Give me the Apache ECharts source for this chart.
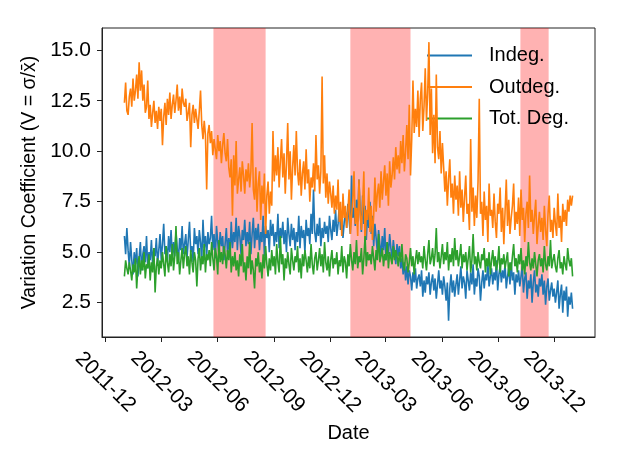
<!DOCTYPE html>
<html>
<head>
<meta charset="utf-8">
<script src="https://cdn.jsdelivr.net/npm/echarts@6/dist/echarts.min.js"></script>
<style>
html,body{margin:0;padding:0;background:#fff;}
#chart{width:623px;height:467px;}
</style>
</head>
<body>
<div id="chart"></div>
<script>
// ---- data (one value every 2 days, starting 2012-01-01) ----
const START = [2012, 0, 1];
const STEP_DAYS = 2;
const seriesNames = ['Indeg.', 'Outdeg.', 'Tot. Deg.'];

const indeg = [
5.8,4.9,6.2,5.1,4.3,5.5,4.6,3.9,5.0,4.4,
5.2,3.8,4.7,5.5,4.1,4.9,5.3,4.5,5.8,4.2,
5.0,4.6,5.6,4.3,5.2,4.8,5.7,4.4,5.1,5.9,
4.6,5.4,6.4,4.9,5.3,4.5,5.8,5.0,6.1,4.7,
5.5,4.8,6.0,5.2,4.6,5.7,5.1,6.3,4.9,5.4,
5.9,4.7,5.6,6.5,5.0,5.3,4.5,6.2,5.4,5.8,
4.9,6.1,5.5,4.6,6.6,5.2,5.8,4.8,6.0,5.4,
5.7,6.8,5.1,5.9,4.7,6.3,5.5,4.9,6.0,5.3,
5.8,4.6,5.4,6.2,5.0,5.7,4.8,6.5,5.2,6.0,
5.5,6.7,5.1,6.3,5.8,4.9,6.1,5.6,6.6,5.3,
6.0,5.4,6.5,4.9,5.9,6.7,5.2,6.2,5.6,6.4,
5.1,6.0,5.5,6.8,4.8,6.3,5.7,6.1,5.0,6.6,
5.8,6.4,5.3,6.0,5.5,6.9,5.2,6.2,5.7,6.5,
5.4,6.1,5.0,6.7,5.9,5.3,6.4,5.6,6.2,5.1,
6.0,5.5,6.8,5.2,6.3,5.7,6.1,5.0,6.6,5.8,
6.2,5.4,6.9,5.9,8.1,6.0,5.5,6.4,5.8,6.7,
5.3,6.2,5.7,6.5,5.9,6.3,5.5,6.8,6.1,5.6,
6.6,6.0,7.1,5.8,6.4,7.3,6.1,6.8,5.7,6.5,
7.0,6.2,7.4,6.6,5.9,8.8,6.7,7.2,6.3,7.6,
6.5,8.6,7.1,6.0,7.8,6.4,7.3,5.6,7.0,6.2,
7.5,5.9,6.8,5.3,6.4,5.7,5.0,6.1,5.4,4.8,
5.8,5.1,6.2,4.6,5.5,4.9,5.9,5.2,4.7,5.6,
5.0,4.4,5.4,4.8,5.3,4.2,4.7,3.9,4.5,3.6,
4.3,3.4,4.1,3.8,3.1,4.0,3.5,4.2,3.2,3.7,
3.9,3.3,4.1,2.8,3.6,3.0,3.8,3.4,4.0,2.9,
3.5,3.9,3.1,3.7,2.7,3.4,4.1,3.2,3.6,2.9,
3.8,3.3,2.6,3.5,1.6,3.2,3.9,3.0,3.6,2.8,
3.4,3.9,2.9,3.6,4.3,3.2,3.8,3.5,2.7,4.1,
3.6,3.1,4.0,3.4,4.4,2.9,3.7,3.3,4.2,3.8,
2.6,3.5,4.1,3.2,3.9,3.6,4.5,3.3,3.8,4.2,
3.4,4.0,3.6,4.6,3.1,3.9,4.3,3.5,4.1,3.7,
4.4,3.2,3.8,4.2,3.4,4.5,3.6,4.0,2.9,3.9,
3.5,4.1,3.3,3.8,4.3,3.0,3.7,4.0,2.7,3.6,
3.2,3.9,2.5,3.5,4.1,3.0,3.4,2.8,3.7,3.3,
3.9,2.9,3.6,2.4,3.3,3.7,2.6,3.1,3.5,2.8,
3.2,2.5,3.0,3.6,2.2,2.9,3.4,2.0,3.1,2.6,
3.3,1.8,2.8,2.4,3.0,2.2
];

const outdeg = [
12.4,13.4,12.0,11.8,12.7,13.1,12.2,13.6,12.5,13.0,
13.8,12.6,14.4,13.0,14.0,12.5,13.3,11.9,12.2,13.5,
11.6,12.3,11.2,11.9,12.5,11.4,12.0,11.1,12.2,11.5,
12.1,10.3,11.7,12.4,11.3,12.6,11.8,12.9,11.6,12.3,
12.8,11.9,12.5,13.3,12.0,12.7,11.8,13.1,12.4,12.2,
12.6,11.5,11.9,12.4,10.2,11.8,12.3,11.4,12.1,11.6,
11.1,12.0,13.0,11.3,10.6,11.5,10.8,8.1,10.9,11.3,
10.4,11.0,9.8,10.6,10.1,9.6,10.8,10.0,10.5,9.4,
10.3,10.9,9.9,9.5,10.6,9.2,8.7,9.6,6.8,9.8,
8.3,10.5,7.9,8.6,9.2,8.0,9.5,8.8,7.9,9.1,
8.5,9.4,8.2,9.0,11.4,8.1,7.6,9.2,7.0,8.4,
9.0,6.6,8.3,7.4,8.9,5.9,7.8,8.5,6.9,8.0,
7.3,11.0,8.5,9.8,8.8,10.2,8.2,9.5,10.6,8.7,
9.9,7.9,9.4,11.4,8.6,10.0,7.6,9.2,10.3,8.8,
11.0,9.0,8.3,9.6,7.8,8.9,9.5,8.1,10.1,8.4,
9.1,7.5,8.7,8.2,9.4,8.0,10.8,8.6,9.3,7.9,
9.0,13.7,8.4,9.8,7.7,8.9,7.4,8.5,7.9,7.2,
8.3,6.9,7.8,7.1,8.6,6.5,7.5,5.8,7.9,6.7,
7.3,6.2,7.0,8.1,5.9,6.8,7.6,9.0,6.4,7.2,
5.8,8.6,6.9,6.1,7.4,9.0,5.3,7.1,6.6,8.2,
6.0,7.3,5.6,6.8,8.7,7.0,7.9,8.4,7.2,9.0,
7.6,8.5,9.3,7.8,8.9,7.3,9.5,8.2,8.8,9.7,
8.6,10.2,9.1,9.8,8.9,10.5,9.4,10.8,9.0,10.0,
11.3,9.6,12.3,8.8,10.6,13.5,10.9,12.1,11.2,13.0,
10.7,12.6,13.4,11.0,12.2,14.1,11.5,12.9,15.4,10.8,
13.1,9.9,11.8,9.4,13.8,10.2,9.6,11.0,8.9,10.4,
9.2,8.0,9.0,7.3,8.6,9.6,7.7,8.4,6.9,8.8,
7.6,8.3,6.8,9.0,7.2,8.1,6.5,7.7,8.8,6.9,
7.4,6.1,10.6,7.0,8.2,6.3,7.8,6.7,8.5,12.6,
6.9,7.5,5.8,8.0,6.6,7.3,5.5,8.4,6.8,7.1,
6.2,7.9,6.5,5.7,7.4,6.9,8.2,6.0,7.2,5.4,
7.0,8.6,6.3,7.6,5.9,6.7,7.3,8.4,6.1,7.0,
6.4,7.7,5.8,8.1,6.6,7.2,5.5,6.9,7.5,6.2,
8.8,6.5,7.1,5.9,6.8,7.6,5.4,6.3,7.0,6.0,
6.7,5.6,7.3,6.1,5.3,6.9,7.8,6.0,6.6,5.7,
7.2,6.4,5.8,7.9,6.2,6.8,5.5,7.4,6.5,7.1,
6.3,7.6,7.0,7.8,7.3,7.8
];

const totdeg = [
3.8,4.6,4.2,3.9,4.5,4.1,3.6,4.4,4.0,4.7,
3.2,4.3,4.8,3.9,4.6,4.1,5.0,3.7,4.4,4.2,
4.9,3.6,4.5,4.0,5.2,3.0,4.3,4.7,3.9,4.6,
4.2,5.0,4.4,3.8,5.3,4.5,4.0,4.9,4.3,5.4,
4.1,4.8,6.3,4.4,5.0,3.9,4.6,5.2,4.2,4.9,
5.3,4.3,4.8,3.9,5.1,4.5,4.0,5.0,4.6,3.3,
4.7,5.2,4.1,4.8,4.4,5.4,4.0,4.9,4.6,5.1,
4.3,5.5,4.7,4.1,5.2,4.8,3.9,5.6,4.5,5.0,
4.4,5.3,4.9,4.2,5.1,4.6,5.5,4.0,4.8,4.3,
5.0,4.1,4.6,3.8,4.9,4.3,5.4,4.0,4.5,3.6,
4.8,4.2,5.5,3.9,4.6,4.1,3.2,4.7,4.3,5.0,
4.0,4.5,3.7,4.9,4.2,5.3,4.4,3.8,4.7,4.1,
5.1,4.3,4.8,3.9,5.4,4.5,4.0,5.8,4.4,4.9,
3.6,4.7,4.2,5.0,4.4,3.9,5.2,4.6,4.1,4.8,
4.5,5.3,4.0,4.7,3.7,4.9,4.3,5.1,4.6,4.0,
4.8,4.2,5.4,4.4,3.9,4.7,5.0,4.1,4.6,5.2,
4.3,4.9,4.0,5.5,4.5,4.1,4.8,3.8,4.6,5.1,
4.2,4.7,4.4,5.0,3.9,4.6,4.3,5.3,4.0,4.8,
4.5,3.7,4.9,4.3,5.4,4.6,4.1,5.0,4.4,5.6,
4.2,4.8,4.5,5.2,3.9,4.7,5.8,4.3,5.0,4.6,
4.9,4.4,5.3,4.7,4.1,5.1,4.6,5.9,4.5,4.8,
5.2,4.3,4.9,4.6,5.5,4.2,5.0,4.7,4.4,5.3,
4.6,5.1,4.8,4.3,5.0,4.5,5.4,4.4,4.1,4.9,
4.7,4.0,4.5,5.2,4.3,4.8,3.9,4.6,5.1,4.4,
5.0,4.5,4.8,4.2,5.3,4.6,4.1,4.9,5.6,4.4,
4.7,5.2,4.3,4.9,6.2,4.5,5.0,4.2,4.8,5.4,
4.4,5.0,4.6,5.5,4.1,4.9,4.5,5.2,4.3,5.7,
4.6,5.1,4.3,4.8,5.4,4.2,4.9,4.5,5.0,4.1,
4.7,5.3,4.0,4.6,5.9,4.4,4.8,4.1,5.0,4.5,
4.2,4.9,4.6,5.2,4.0,4.7,4.3,5.0,3.9,4.6,
5.1,4.3,4.8,4.1,4.5,5.3,4.0,4.7,4.4,4.9,
4.2,4.6,5.0,3.8,4.5,4.1,4.8,5.4,4.3,4.7,
4.0,4.9,4.4,5.2,4.1,4.6,3.9,4.8,4.3,5.5,
4.5,4.1,4.7,4.2,5.0,4.4,3.8,4.6,4.9,4.3,
4.7,4.0,5.3,4.4,4.1,4.8,4.3,5.6,4.2,4.6,
4.9,4.3,4.0,4.7,5.1,4.2,4.5,3.9,4.8,4.4,
4.1,5.2,4.6,4.3,4.7,3.8
];

// shaded periods [start, end] as [y, month(1-12), day]
const shadedPeriods = [
  [[2012, 5, 25], [2012, 8, 18]],
  [[2013, 1, 3], [2013, 4, 11]],
  [[2013, 10, 7], [2013, 11, 22]]
];

// x tick labels
const xTicks = [[2011,12],[2012,3],[2012,6],[2012,9],[2012,12],[2013,3],[2013,6],[2013,9],[2013,12]];
const yTicks = [2.5, 5.0, 7.5, 10.0, 12.5, 15.0];

// axis ranges
const X_MIN = [2011, 11, 25, 12];
const X_MAX = [2014, 2, 5, 12];
const Y_MIN = 0.8, Y_MAX = 16.1;

const colors = ['#1f77b4', '#ff7f0e', '#2ca02c'];

// ---- build ----
function toPoints(arr) {
  return arr.map((v, i) => [new Date(START[0], START[1], START[2] + i * STEP_DAYS).getTime(), v]);
}
const d = (a) => new Date(a[0], a[1] - 1, a[2], a[3] || 0).getTime();
const xTickValues = xTicks.map(t => new Date(t[0], t[1] - 1, 1).getTime());
const pad = n => (n < 10 ? '0' : '') + n;
const FONT = "'Liberation Sans', Arial, Helvetica, sans-serif";

const chart = echarts.init(document.getElementById('chart'), null, {renderer: 'canvas'});
const lineSeries = [indeg, outdeg, totdeg].map((arr, k) => ({
  name: seriesNames[k],
  type: 'line',
  data: toPoints(arr),
  symbol: 'none',
  showSymbol: false,
  z: 3 + k,
  lineStyle: {color: colors[k], width: 1.6},
  itemStyle: {color: colors[k]},
  emphasis: {disabled: true},
  animation: false
}));

const shadeSeries = {
  name: 'shade',
  type: 'line',
  data: toPoints(indeg),
  symbol: 'none',
  showSymbol: false,
  silent: true,
  z: 1,
  lineStyle: {opacity: 0},
  markArea: {
    silent: true,
    itemStyle: {color: 'rgba(255,0,0,0.3)'},
    data: shadedPeriods.map(p => [{xAxis: d(p[0])}, {xAxis: d(p[1])}])
  },
  animation: false
};

chart.setOption({
  animation: false,
  textStyle: {fontFamily: FONT},
  grid: {left: 102, top: 28, width: 493, height: 309, show: true, borderColor: '#222', borderWidth: 1, containLabel: false},
  legend: {
    data: seriesNames.map((n, k) => ({name: n, icon: 'rect', itemStyle: {color: colors[k]}})),
    orient: 'vertical',
    left: 427,
    top: 45.5,
    padding: 0,
    itemWidth: 45,
    itemHeight: 1.8,
    itemGap: 11.5,
    textStyle: {fontSize: 20, lineHeight: 20, color: '#000', fontFamily: FONT, padding: [0, 0, 0, 12]},
    selectedMode: false
  },
  xAxis: {
    type: 'value',
    min: d(X_MIN),
    max: d(X_MAX),
    name: 'Date',
    nameLocation: 'middle',
    nameGap: 95,
    nameTextStyle: {fontSize: 20, color: '#000', fontFamily: FONT, verticalAlign: 'middle'},
    axisLine: {show: true, lineStyle: {color: '#222', width: 1}},
    axisTick: {show: true, inside: false, length: 5, lineStyle: {color: '#222', width: 1}, customValues: xTickValues},
    axisLabel: {
      customValues: xTickValues,
      rotate: -45,
      align: 'center',
      verticalAlign: 'middle',
      margin: 45,
      fontSize: 21,
      color: '#000',
      fontFamily: FONT,
      formatter: v => { const t = new Date(v); return t.getFullYear() + '-' + pad(t.getMonth() + 1); }
    },
    splitLine: {show: false}
  },
  yAxis: {
    type: 'value',
    min: Y_MIN,
    max: Y_MAX,
    name: 'Variation Coefficient (V = σ/x\u0304)',
    nameLocation: 'middle',
    nameGap: 70,
    nameRotate: 90,
    nameTextStyle: {fontSize: 19.5, color: '#000', fontFamily: FONT, verticalAlign: 'middle'},
    axisLine: {show: true, lineStyle: {color: '#222', width: 1}},
    axisTick: {show: true, inside: false, length: 5, lineStyle: {color: '#222', width: 1}, customValues: yTicks},
    axisLabel: {
      customValues: yTicks,
      margin: 11,
      fontSize: 21,
      color: '#000',
      fontFamily: FONT,
      formatter: v => Number(v).toFixed(1)
    },
    splitLine: {show: false}
  },
  series: [shadeSeries].concat(lineSeries)
});
</script>
</body>
</html>
